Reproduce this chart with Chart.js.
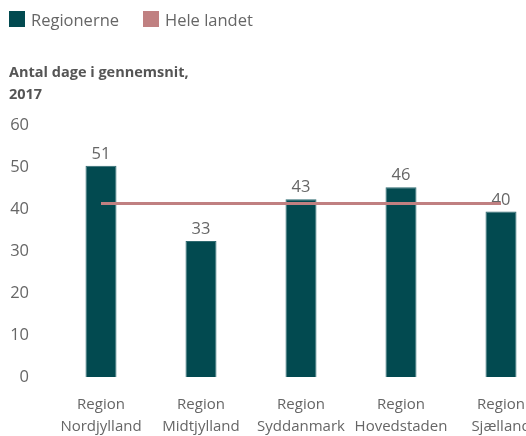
<!DOCTYPE html>
<html>
<head>
<meta charset="utf-8">
<script src="https://cdn.jsdelivr.net/npm/chart.js@4/dist/chart.umd.min.js"></script>
<style>
  html, body { margin:0; padding:0; width:526px; height:436px; overflow:hidden; background:#fff; }
  body { position:relative; font-family:"Open Sans", sans-serif; }
  #wrap { position:absolute; left:0; top:0; width:560px; height:438px; }
  #c { display:block; }
  .leg { position:absolute; top:11px; height:16px; display:flex; align-items:center; font-size:16.5px; color:#666; }
  .sw { width:16px; height:16px; display:inline-block; margin-right:6px; }
  #title { position:absolute; left:9px; top:61px; font-weight:bold; font-size:14.5px; line-height:22px; color:#555; }
</style>
</head>
<body>
<div id="wrap"><canvas id="c" width="560" height="438"></canvas></div>
<div class="leg" style="left:9px"><span class="sw" style="background:#024a50"></span>Regionerne</div>
<div class="leg" style="left:143px"><span class="sw" style="background:#c08081"></span>Hele landet</div>
<div id="title">Antal dage i gennemsnit,<br>2017</div>
<script>
const categories = [["Region","Nordjylland"],["Region","Midtjylland"],["Region","Syddanmark"],["Region","Hovedstaden"],["Region","Sjælland"]];
const regionValues = [50.3, 32.4, 42.3, 45.2, 39.4];
const regionLabels = ["51", "33", "43", "46", "40"];
const nationalValue = 41.3;
const nationalValues = [nationalValue, nationalValue, nationalValue, nationalValue, nationalValue];
const yTicks = [0, 10, 20, 30, 40, 50, 60];

const barLabelPlugin = {
  id: 'barLabels',
  afterDatasetDraw(chart, args) {
    if (chart.data.datasets[args.index].type !== 'bar') return;
    const ctx = chart.ctx;
    const meta = args.meta;
    ctx.save();
    ctx.font = '16.5px "Open Sans", sans-serif';
    ctx.fillStyle = '#666';
    ctx.textAlign = 'center';
    ctx.textBaseline = 'alphabetic';
    meta.data.forEach((el, i) => {
      ctx.fillText(regionLabels[i], el.x, el.y - 7);
    });
    ctx.restore();
  }
};

new Chart(document.getElementById('c'), {
  type: 'bar',
  data: {
    labels: categories,
    datasets: [
      {
        type: 'line',
        label: 'Hele landet',
        data: nationalValues,
        borderColor: '#c08081',
        borderWidth: 3,
        pointRadius: 0,
        fill: false,
        order: 0
      },
      {
        type: 'bar',
        label: 'Regionerne',
        data: regionValues,
        backgroundColor: '#024a50',
        borderColor: '#2f6a70',
        borderWidth: 1,
        barPercentage: 0.31,
        categoryPercentage: 1,
        order: 1
      }
    ]
  },
  options: {
    responsive: false,
    animation: false,
    layout: { padding: { top: 125, right: 9, bottom: 0, left: 0 } },
    plugins: { legend: { display: false }, tooltip: { enabled: false }, title: { display: false } },
    scales: {
      x: {
        grid: { display: false, drawTicks: false },
        border: { display: false },
        afterFit(scale) { scale.height = 61; },
        ticks: {
          color: '#666',
          font: { family: '"Open Sans", sans-serif', size: 15, lineHeight: 22/15 },
          padding: 17,
          maxRotation: 0,
          autoSkip: false
        }
      },
      y: {
        min: 0,
        max: 60,
        grid: { display: false, drawTicks: false },
        border: { display: false },
        afterBuildTicks(scale) { scale.ticks = yTicks.map(v => ({ value: v })); },
        afterFit(scale) { scale.width = 51; },
        ticks: {
          color: '#666',
          font: { family: '"Open Sans", sans-serif', size: 16.5 },
          padding: 22
        }
      }
    }
  },
  plugins: [barLabelPlugin]
});
</script>
</body>
</html>
